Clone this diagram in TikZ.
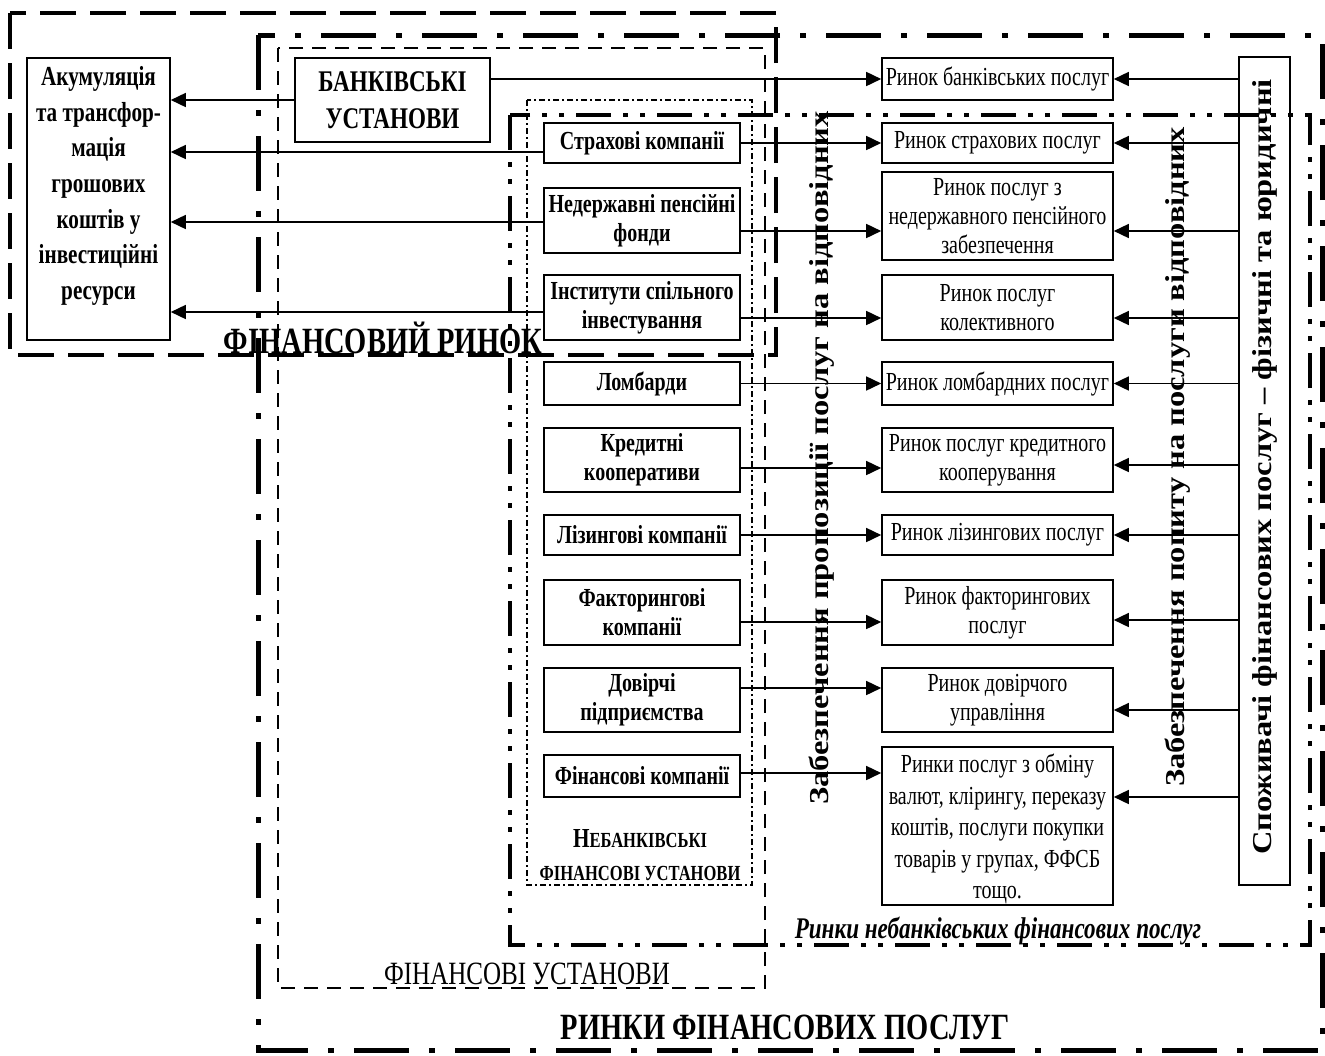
\documentclass[tikz,border=0pt]{standalone}
\usepackage{fontspec}
\setmainfont{Liberation Serif}[FakeStretch=0.77]
\newfontfamily\vfont{Liberation Serif}
\usetikzlibrary{arrows.meta}
\newcommand\vtx[1]{\scalebox{1}[0.84]{\vfont\bfseries\fontsize{32.5}{32.5}\selectfont #1}}
\begin{document}
\begin{tikzpicture}[x=1pt,y=-1pt,
  arr/.style={line width=1.6pt,-{Triangle[length=15pt,width=14pt]}},
  rbox/.style={draw,line width=1.6pt,minimum width=231,align=center,inner sep=0pt,font=\fontsize{26}{29}\selectfont},
  lbox/.style={draw,line width=1.6pt,minimum width=196,align=center,inner sep=0pt,font=\bfseries\fontsize{26}{29}\selectfont},
  plainbox/.style={draw,line width=1.6pt,inner sep=0pt},
  frA/.style={line width=4.5pt,dash pattern=on 36pt off 14pt},
  frB/.style={line width=5pt,dash pattern=on 55pt off 20pt on 6pt off 20pt},
  frC/.style={line width=2.8pt,dash pattern=on 14pt off 9pt},
  frD/.style={line width=4.5pt,dash pattern=on 35pt off 12pt on 5pt off 12pt on 5pt off 12pt},
  frE/.style={line width=1.4pt,dash pattern=on 6pt off 3pt on 2pt off 3pt},
  vtext/.style={rotate=90,inner sep=0pt}
]
\useasboundingbox (0,0) rectangle (1325,1055);
% frames
\draw[frA] (10,13) rectangle (776,355);
\draw[frB] (258,35) rectangle (1322,1050);
\draw[frC] (278,48) rectangle (765,988);
\draw[frD] (510,115) rectangle (1310,945);
\draw[frE] (527,100) rectangle (752,885);
% frame labels
\node[anchor=base,inner sep=0pt,font=\bfseries\fontsize{37}{40}\selectfont] (lfr) at (383,353) {ФІНАНСОВИЙ РИНОК};
\node[anchor=base,inner sep=0pt,font=\fontsize{32.5}{36}\selectfont] (lfu) at (527,984) {ФІНАНСОВІ УСТАНОВИ};
\node[anchor=base,inner sep=0pt,font=\bfseries\fontsize{37}{42}\selectfont] (lrfp) at (785,1039) {РИНКИ ФІНАНСОВИХ ПОСЛУГ};
\node[anchor=base,inner sep=0pt,font=\bfseries\itshape\fontsize{30}{32}\selectfont] (lrnb) at (998,938) {Ринки небанківських фінансових послуг};
\node[align=center,inner sep=0pt,font=\bfseries\fontsize{21.5}{33}\selectfont] (lnb) at (640,855) {{\fontsize{27.5}{33}\selectfont Н}ЕБАНКІВСЬКІ\\ФІНАНСОВІ УСТАНОВИ};
% left big box
\node[plainbox,minimum width=143,minimum height=282] (ak) at (98.5,199) {};
\node[align=center,inner sep=0pt,font=\bfseries\fontsize{27.5}{35.6}\selectfont] (akt) at (98.5,186) {Акумуляція\\та трансфор-\\мація\\грошових\\коштів у\\інвестиційні\\ресурси};
\node[plainbox,minimum width=195,minimum height=84,align=center,font=\bfseries\fontsize{30}{37}\selectfont] (bank) at (392.5,100) {БАНКІВСЬКІ\\УСТАНОВИ};
% left column
\node[lbox,minimum height=40] (sk) at (642,143) {Страхові компанії};
\node[lbox,minimum height=65] (np) at (642,220.5) {Недержавні пенсійні\\фонди};
\node[lbox,minimum height=65] (isi) at (642,307.5) {Інститути спільного\\інвестування};
\node[lbox,minimum height=43] (lom) at (642,383.5) {Ломбарди};
\node[lbox,minimum height=64] (kk) at (642,460) {Кредитні\\кооперативи};
\node[lbox,minimum height=40] (liz) at (642,535) {Лізингові компанії};
\node[lbox,minimum height=65] (fak) at (642,612.5) {Факторингові\\компанії};
\node[lbox,minimum height=64] (dov) at (642,700) {Довірчі\\підприємства};
\node[lbox,minimum height=42] (fin) at (642,776) {Фінансові компанії};
% right column
\node[rbox,minimum height=42] (rb) at (997.5,79) {Ринок банківських послуг};
\node[rbox,minimum height=40] (rs) at (997.5,143) {Ринок страхових послуг};
\node[rbox,minimum height=88] (rnp) at (997.5,216) {Ринок послуг з\\недержавного пенсійного\\забезпечення};
\node[rbox,minimum height=65] (rk) at (997.5,307.5) {Ринок послуг\\колективного};
\node[rbox,minimum height=43] (rl) at (997.5,383.5) {Ринок ломбардних послуг};
\node[rbox,minimum height=64] (rkk) at (997.5,460) {Ринок послуг кредитного\\кооперування};
\node[rbox,minimum height=40] (rlz) at (997.5,535) {Ринок лізингових послуг};
\node[rbox,minimum height=65] (rf) at (997.5,612.5) {Ринок факторингових\\послуг};
\node[rbox,minimum height=64] (rd) at (997.5,700) {Ринок довірчого\\управління};
\node[rbox,minimum height=158] (ro) at (997.5,826) {};
\node[align=center,inner sep=0pt,font=\fontsize{26}{31.5}\selectfont] (rot) at (997.5,829) {Ринки послуг з обміну\\валют, клірингу, переказу\\коштів, послуги покупки\\товарів у групах, ФФСБ\\тощо.};
% consumers
\node[plainbox,minimum width=51,minimum height=828] (cons) at (1264.5,471) {};
\node[vtext] (const) at (1264.5,467) {\vtx{Споживачі фінансових послуг – фізичні та юридичні}};
% vertical labels
\node[vtext] (sup) at (822,458) {\vtx{Забезпечення пропозиції послуг на відповідних}};
\node[vtext] (dem) at (1178,457) {\vtx{Забезпечення попиту на послуги відповідних}};
% arrows to accumulation
\draw[arr] (bank.west) -- (ak.east |- bank.west);
\draw[arr] (sk.west |- 0,152) -- (ak.east |- 0,152);
\draw[arr] (np.west |- 0,222) -- (ak.east |- 0,222);
\draw[arr] (isi.west |- 0,312) -- (ak.east |- 0,312);
% supply arrows
\draw[arr] (bank.east |- rb.west) -- (rb.west);
\draw[arr] (sk.east |- 0,143) -- (rs.west |- 0,143);
\draw[arr] (np.east |- 0,231) -- (rnp.west |- 0,231);
\draw[arr] (isi.east |- 0,318) -- (rk.west |- 0,318);
\draw[arr] (lom.east) -- (rl.west);
\draw[arr] (kk.east |- 0,468) -- (rkk.west |- 0,468);
\draw[arr] (liz.east) -- (rlz.west);
\draw[arr] (fak.east |- 0,622) -- (rf.west |- 0,622);
\draw[arr] (dov.east |- 0,688) -- (rd.west |- 0,688);
\draw[arr] (fin.east |- 0,773) -- (ro.west |- 0,773);
% demand arrows
\draw[arr] (cons.west |- rb.east) -- (rb.east);
\draw[arr] (cons.west |- rs.east) -- (rs.east);
\draw[arr] (cons.west |- 0,231) -- (rnp.east |- 0,231);
\draw[arr] (cons.west |- 0,318) -- (rk.east |- 0,318);
\draw[arr] (cons.west |- rl.east) -- (rl.east);
\draw[arr] (cons.west |- 0,465) -- (rkk.east |- 0,465);
\draw[arr] (cons.west |- rlz.east) -- (rlz.east);
\draw[arr] (cons.west |- 0,620) -- (rf.east |- 0,620);
\draw[arr] (cons.west |- 0,710) -- (rd.east |- 0,710);
\draw[arr] (cons.west |- 0,797) -- (ro.east |- 0,797);
\end{tikzpicture}
\end{document}
